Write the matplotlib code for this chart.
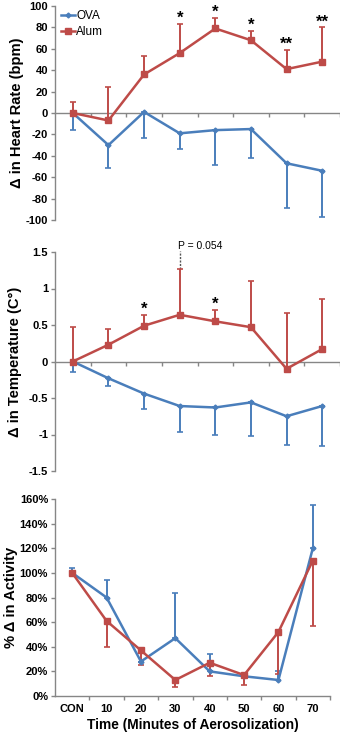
import matplotlib
matplotlib.use("Agg")
import matplotlib.pyplot as plt
import numpy as np
from matplotlib.ticker import FuncFormatter, FixedLocator
from matplotlib.lines import Line2D

plt.rcParams['font.family'] = ['Liberation Sans', 'DejaVu Sans']

categories = ["CON", "10", "20", "30", "40", "50", "60", "70"]

# Heart rate
hr_ova = [0, -30, 1, -19, -16, -15, -47, -54]
hr_ova_low = [-16, -51, -23, -34, -49, -42, -89, -97]
hr_alum = [0, -7, 36, 56, 79, 68, 41, 48]
hr_alum_high = [10, 24, 53, 83, 89, 77, 59, 80]
hr_stars = ["", "", "", "*", "*", "*", "**", "**"]

# Temperature
t_ova = [0, -0.23, -0.44, -0.61, -0.63, -0.56, -0.75, -0.61]
t_ova_low = [-0.14, -0.34, -0.65, -0.96, -1.0, -1.02, -1.15, -1.16]
t_alum = [0, 0.23, 0.49, 0.64, 0.55, 0.47, -0.10, 0.17]
t_alum_high = [0.47, 0.44, 0.64, 1.27, 0.71, 1.10, 0.67, 0.85]
t_stars = ["", "", "*", "", "*", "", "", ""]

# Activity (%)
a_ova = [100, 80, 28, 47, 20, 16, 13, 120]
a_ova_high = [104, 94, 28, 84, 34, 16, 20, 155]
a_alum = [100, 61, 37, 13, 27, 17, 52, 110]
a_alum_low = [100, 40, 25, 7, 16, 9, 18, 57]

BLUE = "#4A7EBB"
RED = "#BE4B48"
GRAY = "#868686"

W, H = 340, 737
fig = plt.figure(figsize=(W / 100, H / 100), dpi=100)

def rect(l, r, t, b):
    return [l / W, 1 - b / H, (r - l) / W, (b - t) / H]

ax1 = fig.add_axes(rect(55, 340, 6, 220))
ax2 = fig.add_axes(rect(55, 340, 252, 471))
ax3 = fig.add_axes(rect(55, 330, 499, 696))

x = np.arange(len(categories))

def series(ax, vals, ends, color, marker, ms, side):
    v = np.array(vals, float)
    e = np.array(ends, float)
    if side == "low":
        yerr = [v - e, np.zeros_like(v)]
    else:
        yerr = [np.zeros_like(v), e - v]
    ax.errorbar(x, v, yerr=yerr, color=color, ecolor=color, elinewidth=1.4,
                capsize=2, capthick=1.2, lw=1.8, marker=marker, ms=ms,
                mec=color, mfc=color, zorder=3)

def style(ax, ylim, yticks, fmt, zero_axis):
    ax.set_xlim(-0.5, len(categories) - 0.5)
    ax.set_ylim(*ylim)
    ax.set_yticks(yticks)
    ax.yaxis.set_major_formatter(FuncFormatter(fmt))
    for s in ["top", "right"]:
        ax.spines[s].set_visible(False)
    for s in ["left", "bottom"]:
        ax.spines[s].set_color(GRAY)
        ax.spines[s].set_linewidth(1.0)
    if zero_axis:
        ax.spines["bottom"].set_position(("data", 0))
    ax.xaxis.set_major_locator(FixedLocator(np.arange(0.5, len(categories), 1.0)))
    ax.set_xticklabels([])
    ax.tick_params(axis="x", direction="out", length=3, color=GRAY, width=1.0)
    ax.tick_params(axis="y", direction="out", length=3, color=GRAY, width=1.0,
                   labelsize=8, pad=2)
    for lab in ax.get_yticklabels():
        lab.set_fontweight("bold")

LABEL_FS = 10.6

# Panel 1
series(ax1, hr_ova, hr_ova_low, BLUE, "D", 2.5, "low")
series(ax1, hr_alum, hr_alum_high, RED, "s", 4.5, "high")
style(ax1, (-100, 100), np.arange(-100, 101, 20), lambda v, p: f"{int(v)}", True)
ax1.set_ylabel("Δ in Heart Rate (bpm)", fontsize=LABEL_FS, fontweight="bold", labelpad=1)
for i, s in enumerate(hr_stars):
    if s:
        ax1.text(x[i], hr_alum_high[i] + 1, s, ha="center", va="baseline",
                 fontsize=12, fontweight="bold")
handles = [Line2D([], [], color=BLUE, lw=1.8, marker="D", ms=2.5),
           Line2D([], [], color=RED, lw=1.8, marker="s", ms=4.5)]
ax1.legend(handles, ["OVA", "Alum"], loc="upper left", bbox_to_anchor=(-0.005, 1.015),
           frameon=False, fontsize=8.5, handlelength=1.2, handletextpad=0.1,
           labelspacing=0.35, borderaxespad=0.2)

# Panel 2
series(ax2, t_ova, t_ova_low, BLUE, "D", 2.5, "low")
series(ax2, t_alum, t_alum_high, RED, "s", 4.5, "high")
style(ax2, (-1.5, 1.5), np.arange(-1.5, 1.51, 0.5), lambda v, p: f"{v:g}", True)
ax2.set_ylabel("Δ in Temperature (C°)", fontsize=LABEL_FS, fontweight="bold", labelpad=5)
for i, s in enumerate(t_stars):
    if s:
        ax2.text(x[i], t_alum_high[i] + 0.01, s, ha="center", va="baseline",
                 fontsize=12, fontweight="bold")
ax2.plot([x[3], x[3]], [t_alum_high[3], 1.51], ls=(0, (1.5, 1)), color="#555555",
         lw=1.0, clip_on=False)
ax2.text(x[3] - 0.05, 1.515, "P = 0.054", ha="left", va="bottom", fontsize=7.5,
         clip_on=False)

# Panel 3
series(ax3, a_ova, a_ova_high, BLUE, "D", 2.5, "high")
series(ax3, a_alum, a_alum_low, RED, "s", 4.5, "low")
style(ax3, (0, 160), np.arange(0, 161, 20), lambda v, p: f"{int(v)}%", False)
ax3.set_xticks(x, minor=True)
ax3.set_xticklabels(categories, minor=True, fontsize=8, fontweight="bold")
ax3.tick_params(axis="x", which="minor", length=0, pad=6)
ax3.set_ylabel("% Δ in Activity", fontsize=LABEL_FS, fontweight="bold", labelpad=1)
ax3.set_xlabel("Time (Minutes of Aerosolization)", fontsize=9.9, fontweight="bold",
               labelpad=3)

fig.savefig("out.png", dpi=100)
